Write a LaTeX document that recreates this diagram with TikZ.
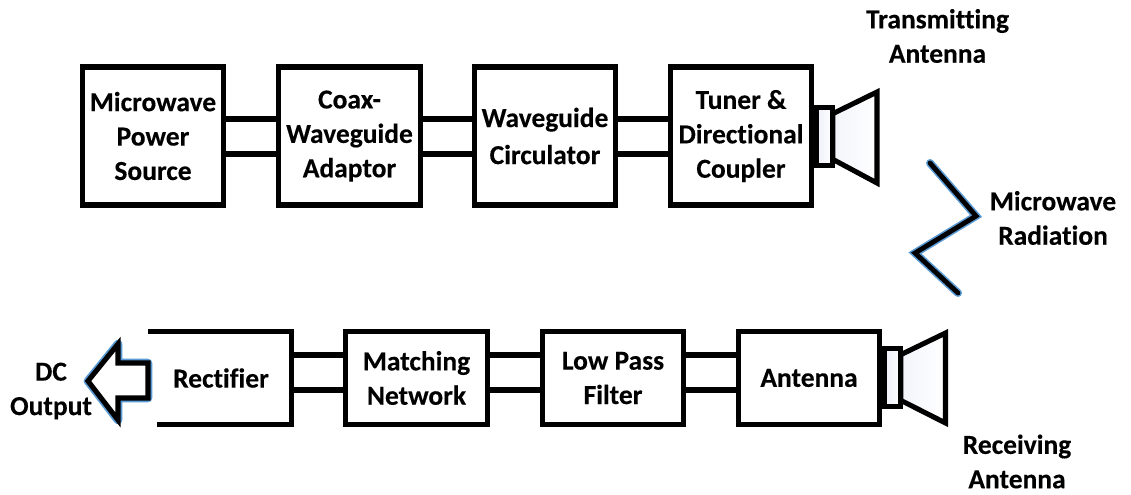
\documentclass[tikz,border=0pt]{standalone}
\usepackage{fontspec}
\setmainfont[Ligatures=CommonOff,BoldFeatures={FakeBold=0.25}]{Carlito}
\definecolor{shadow}{HTML}{5B9BD5}
\definecolor{hornfill}{HTML}{EEF0FA}
\begin{document}
\begin{tikzpicture}[x=0.75pt,y=-0.75pt,
  blk/.style={draw=black,line width=3.8pt,fill=white,minimum width=106pt,align=center,inner sep=0pt,outer sep=0pt},
  tall/.style={blk,minimum height=103.5pt},
  short/.style={blk,minimum height=70pt},
  lbl/.style={align=center,inner sep=0pt,outer sep=0pt,text=black},
  wire/.style={draw=black,line width=3.8pt},
  hornneck/.style={draw=black,line width=3.8pt,left color=hornfill,right color=white,minimum width=12.5pt,minimum height=43.5pt,inner sep=0pt,outer sep=0pt},
  hornpart/.style={draw=black,line width=3.8pt,left color=hornfill!70,right color=white,line join=miter},
  txt/.style={font=\bfseries\fontsize{20.6pt}{25.8pt}\selectfont}]
\useasboundingbox (0,0) rectangle (1131,494);
\tikzset{every node/.append style={txt}}
% wire levels
\coordinate (ua) at (0,119);
\coordinate (ub) at (0,154);
\coordinate (la) at (0,355);
\coordinate (lb) at (0,390);
% top row
\node[tall] (a) at (153,136) {Microwave\\Power\\Source};
\node[tall] (b) at (349.5,136) {Coax-\\Waveguide\\Adaptor};
\node[tall] (c) at (545,136) {Waveguide\\[2pt]Circulator};
\node[tall] (d) at (741,136) {Tuner \&\\Directional\\Coupler};
\foreach \p/\q in {a/b,b/c,c/d}{
  \draw[wire] (\p.east |- ua) -- (\q.west |- ua);
  \draw[wire] (\p.east |- ub) -- (\q.west |- ub);
}
% transmitting horn
\node[hornneck] (th) at (824.5,136.5) {};
\coordinate (tt) at (877,92);
\coordinate (tb) at (877,183);
\draw[hornpart] ([yshift=-4.6pt]th.north east) -- (tt) -- (tb) -- ([yshift=4.6pt]th.south east) -- cycle;
% radiation
\coordinate (z1) at (930,163);
\coordinate (z2) at (976,216);
\coordinate (z3) at (915,253);
\coordinate (z4) at (958,293);
\draw[line width=6pt,draw=shadow,line join=miter,line cap=round,shift={(0,1.4)}] (z1) -- (z2) -- (z3) -- (z4);
\draw[line width=3.6pt,draw=black,line join=miter,line cap=round] (z1) -- (z2) -- (z3) -- (z4);
% bottom row
\node[lbl,minimum width=106pt,minimum height=70pt] (r) at (221,378) {Rectifier};
\node[short] (m) at (416.5,378) {Matching\\Network};
\node[short] (l) at (613,378) {Low Pass\\Filter};
\node[short] (n) at (809,378) {Antenna};
\coordinate (rs) at (148,331.5);
\coordinate (re) at (157,424.5);
\draw[draw=black,line width=3.8pt] (rs) -- (rs -| r.east) -- (re -| r.east) -- (re);
\foreach \p/\q in {r/m,m/l,l/n}{
  \draw[wire] (\p.east |- la) -- (\q.west |- la);
  \draw[wire] (\p.east |- lb) -- (\q.west |- lb);
}
% receiving horn
\node[hornneck] (rh) at (892.5,377.5) {};
\coordinate (rt) at (945.5,333);
\coordinate (rb) at (945.5,423);
\draw[hornpart] ([yshift=-4.6pt]rh.north east) -- (rt) -- (rb) -- ([yshift=4.6pt]rh.south east) -- cycle;
% DC arrow
\coordinate (k1) at (88,381);
\coordinate (k2) at (118,344);
\coordinate (k3) at (118,363);
\coordinate (k4) at (148,363);
\coordinate (k5) at (148,398);
\coordinate (k6) at (118,398);
\coordinate (k7) at (118,420);
\draw[line width=6.4pt,draw=shadow,line join=round,shift={(2,2)}] (k1) -- (k2) -- (k3) -- (k4) -- (k5) -- (k6) -- (k7) -- cycle;
\draw[line width=3.8pt,draw=black,fill=white,line join=miter] (k1) -- (k2) -- (k3) -- (k4) -- (k5) -- (k6) -- (k7) -- cycle;
% labels
\node[lbl] (t1l) at (937.5,36) {Transmitting\\Antenna};
\node[lbl] (t2l) at (1053,218) {Microwave\\Radiation};
\node[lbl] (t3l) at (1017,461.5) {Receiving\\Antenna};
\node[lbl] (t4l) at (51,391) {DC\\Output};
\end{tikzpicture}
\end{document}
